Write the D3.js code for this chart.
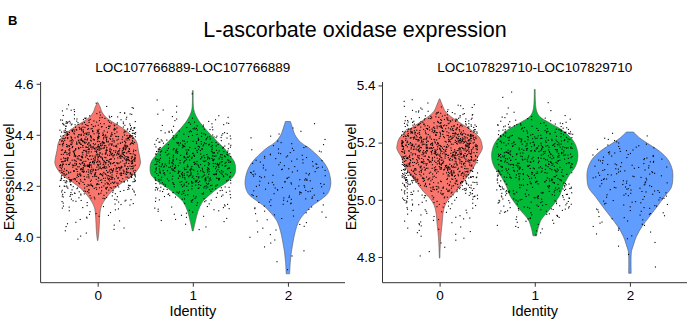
<!DOCTYPE html>
<html>
<head>
<meta charset="utf-8">
<script src="https://cdn.jsdelivr.net/npm/d3@7"></script>
<style>
  body { margin: 0; background: #fff; }
  text { font-family: "Liberation Sans", Arial, Helvetica, sans-serif; fill: #000; }
</style>
</head>
<body>
<svg id="chart" width="689" height="332"></svg>
<script>
// cluster identities, fill colours and number of cells per cluster
var identities = ["0", "1", "2"];
var groupColors = ["#F8766D", "#00BA38", "#619CFF"];
var cellCounts = [1150, 600, 170];

var geneA = "LOC107766889-LOC107766889";
var geneB = "LOC107829710-LOC107829710";
var ticksA = [4.0, 4.2, 4.4, 4.6];
var ticksB = [4.8, 5.0, 5.2, 5.4];
var domainA = [3.82, 4.607];
var domainB = [4.71, 5.412];

// violin outlines: [expression level, half width relative to the widest point]
var profileA0 = [[4.527,0.005],[4.508,0.06],[4.489,0.1],[4.469,0.19],[4.450,0.35],[4.424,0.6],[4.398,0.79],[4.372,0.91],[4.339,0.95],[4.307,0.99],[4.290,1.0],[4.274,0.97],[4.242,0.83],[4.216,0.6],[4.190,0.4],[4.164,0.25],[4.138,0.14],[4.112,0.07],[4.073,0.045],[4.021,0.03],[3.985,0.005]];
var profileA1 = [[4.573,0.01],[4.502,0.02],[4.476,0.07],[4.450,0.16],[4.424,0.29],[4.398,0.43],[4.372,0.58],[4.346,0.74],[4.320,0.86],[4.294,0.97],[4.268,1.0],[4.242,0.97],[4.216,0.81],[4.190,0.58],[4.164,0.39],[4.138,0.23],[4.099,0.12],[4.060,0.06],[4.023,0.01]];
var profileA2 = [[4.452,0.06],[4.42,0.12],[4.398,0.17],[4.37,0.3],[4.35,0.48],[4.33,0.62],[4.30,0.8],[4.27,0.92],[4.24,0.98],[4.205,1.0],[4.17,0.93],[4.14,0.72],[4.12,0.55],[4.09,0.38],[4.06,0.25],[4.02,0.17],[3.98,0.12],[3.94,0.08],[3.90,0.055],[3.855,0.04]];
var profileB0 = [[5.353,0.005],[5.333,0.06],[5.310,0.13],[5.287,0.3],[5.263,0.54],[5.240,0.77],[5.216,0.94],[5.193,0.99],[5.18,1.0],[5.169,0.97],[5.146,0.88],[5.123,0.83],[5.099,0.73],[5.076,0.62],[5.053,0.5],[5.029,0.38],[5.006,0.23],[4.982,0.13],[4.953,0.08],[4.918,0.06],[4.883,0.035],[4.854,0.02],[4.796,0.005]];
var profileB1 = [[5.386,0.01],[5.316,0.035],[5.292,0.11],[5.269,0.35],[5.246,0.62],[5.222,0.81],[5.199,0.93],[5.169,1.0],[5.140,1.0],[5.111,0.93],[5.088,0.81],[5.064,0.72],[5.047,0.66],[5.018,0.59],[4.988,0.46],[4.959,0.31],[4.930,0.15],[4.901,0.08],[4.874,0.04]];
var profileB2 = [[5.237,0.085],[5.216,0.23],[5.193,0.46],[5.169,0.7],[5.140,0.89],[5.105,0.99],[5.070,1.0],[5.041,0.96],[5.012,0.81],[4.977,0.64],[4.942,0.46],[4.906,0.28],[4.871,0.15],[4.836,0.07],[4.818,0.035],[4.743,0.03]];

var svg = d3.select('#chart');

svg.append('text')
    .attr('x', 8).attr('y', 25)
    .style('font-size', '13px').style('font-weight', 'bold')
    .text('B');

svg.append('text')
    .attr('x', 355).attr('y', 37)
    .attr('text-anchor', 'middle')
    .style('font-size', '21.5px')
    .text('L-ascorbate oxidase expression');

// place cells at evenly spaced quantiles of the outline's density
function quantileValues(profile, n) {
    var pts = profile.slice().sort(function(a, b){ return a[0] - b[0]; });
    var cum = [0];
    for (var i = 1; i < pts.length; i++) {
        cum.push(cum[i-1] + (pts[i][0] - pts[i-1][0]) * (pts[i][1] + pts[i-1][1]) / 2);
    }
    var total = cum[cum.length - 1];
    var out = [];
    var k = 1;
    for (var j = 0; j < n; j++) {
        var target = (j + 0.5) / n * total;
        while (k < pts.length - 1 && cum[k] < target) k++;
        var t = (target - cum[k-1]) / (cum[k] - cum[k-1]);
        out.push(pts[k-1][0] + t * (pts[k][0] - pts[k-1][0]));
    }
    return out;
}

function drawPanel(opts) {
    var left = opts.left, right = opts.right, top = 82, bottom = 282.7;
    var g = svg.append('g');

    // discrete axis: 0.6 units of padding either side
    var step = (right - left) / (identities.length - 1 + 1.2);
    var xc = function(id){ return left + step * (0.6 + identities.indexOf(id)); };

    var y = d3.scaleLinear().domain(opts.domain).range([bottom, top]);
    var halfWidth = step * 0.45;

    var area = d3.area()
        .curve(d3.curveCatmullRom)
        .y(function(d){ return y(d[0]); });

    opts.profiles.forEach(function(profile, i) {
        var cx = xc(identities[i]);
        g.append('path')
            .datum(profile)
            .attr('d', area
                .x0(function(d){ return cx - d[1] * halfWidth; })
                .x1(function(d){ return cx + d[1] * halfWidth; }))
            .style('fill', groupColors[i])
            .style('stroke', '#555')
            .style('stroke-width', 0.6);
    });

    // jittered cells
    var rng = d3.randomUniform.source(d3.randomLcg(opts.seed))(-1, 1);
    opts.profiles.forEach(function(profile, i) {
        var cx = xc(identities[i]);
        var vals = quantileValues(profile, cellCounts[i]);
        g.selectAll(null)
            .data(vals)
            .enter()
            .append('rect')
            .attr('x', function(d){ return cx + rng() * step * 0.4 - 0.55; })
            .attr('y', function(d){ return y(d) - 0.55; })
            .attr('width', 1.1)
            .attr('height', 1.1)
            .style('fill', '#000');
    });

    // axes
    var yAxis = d3.axisLeft(y).tickValues(opts.ticks).tickFormat(d3.format('.1f')).tickSizeOuter(0).tickSize(4).tickPadding(3);
    var ya = g.append('g').attr('transform', 'translate(' + left + ',0)').call(yAxis);
    ya.select('.domain').attr('d', 'M0,' + top + 'V' + bottom);

    var xAxis = d3.axisBottom(d3.scalePoint().domain(identities).range([xc('0'), xc('2')]))
        .tickSize(4).tickPadding(4);
    var xa = g.append('g').attr('transform', 'translate(0,' + bottom + ')').call(xAxis);
    xa.select('.domain').attr('d', 'M' + left + ',0H' + right);

    [ya, xa].forEach(function(a) {
        a.select('.domain').style('stroke', '#333').style('stroke-width', 1);
        a.selectAll('.tick line').style('stroke', '#333');
        a.selectAll('.tick text').style('font-size', '13.5px').style('font-family', '"Liberation Sans", Arial, sans-serif');
    });

    g.append('text')
        .attr('x', (left + right) / 2).attr('y', 72)
        .attr('text-anchor', 'middle')
        .style('font-size', '13.5px')
        .text(opts.title);

    g.append('text')
        .attr('x', (left + right) / 2).attr('y', 316)
        .attr('text-anchor', 'middle')
        .style('font-size', '14.5px')
        .text('Identity');

    g.append('text')
        .attr('transform', 'translate(' + (left - 26.5) + ',177) rotate(-90)')
        .attr('text-anchor', 'middle')
        .style('font-size', '14px')
        .text('Expression Level');
}

drawPanel({ left: 40.6, right: 345, domain: domainA, ticks: ticksA,
    profiles: [profileA0, profileA1, profileA2], title: geneA, seed: 11 });
drawPanel({ left: 382.5, right: 687, domain: domainB, ticks: ticksB,
    profiles: [profileB0, profileB1, profileB2], title: geneB, seed: 23 });
</script>
</body>
</html>
